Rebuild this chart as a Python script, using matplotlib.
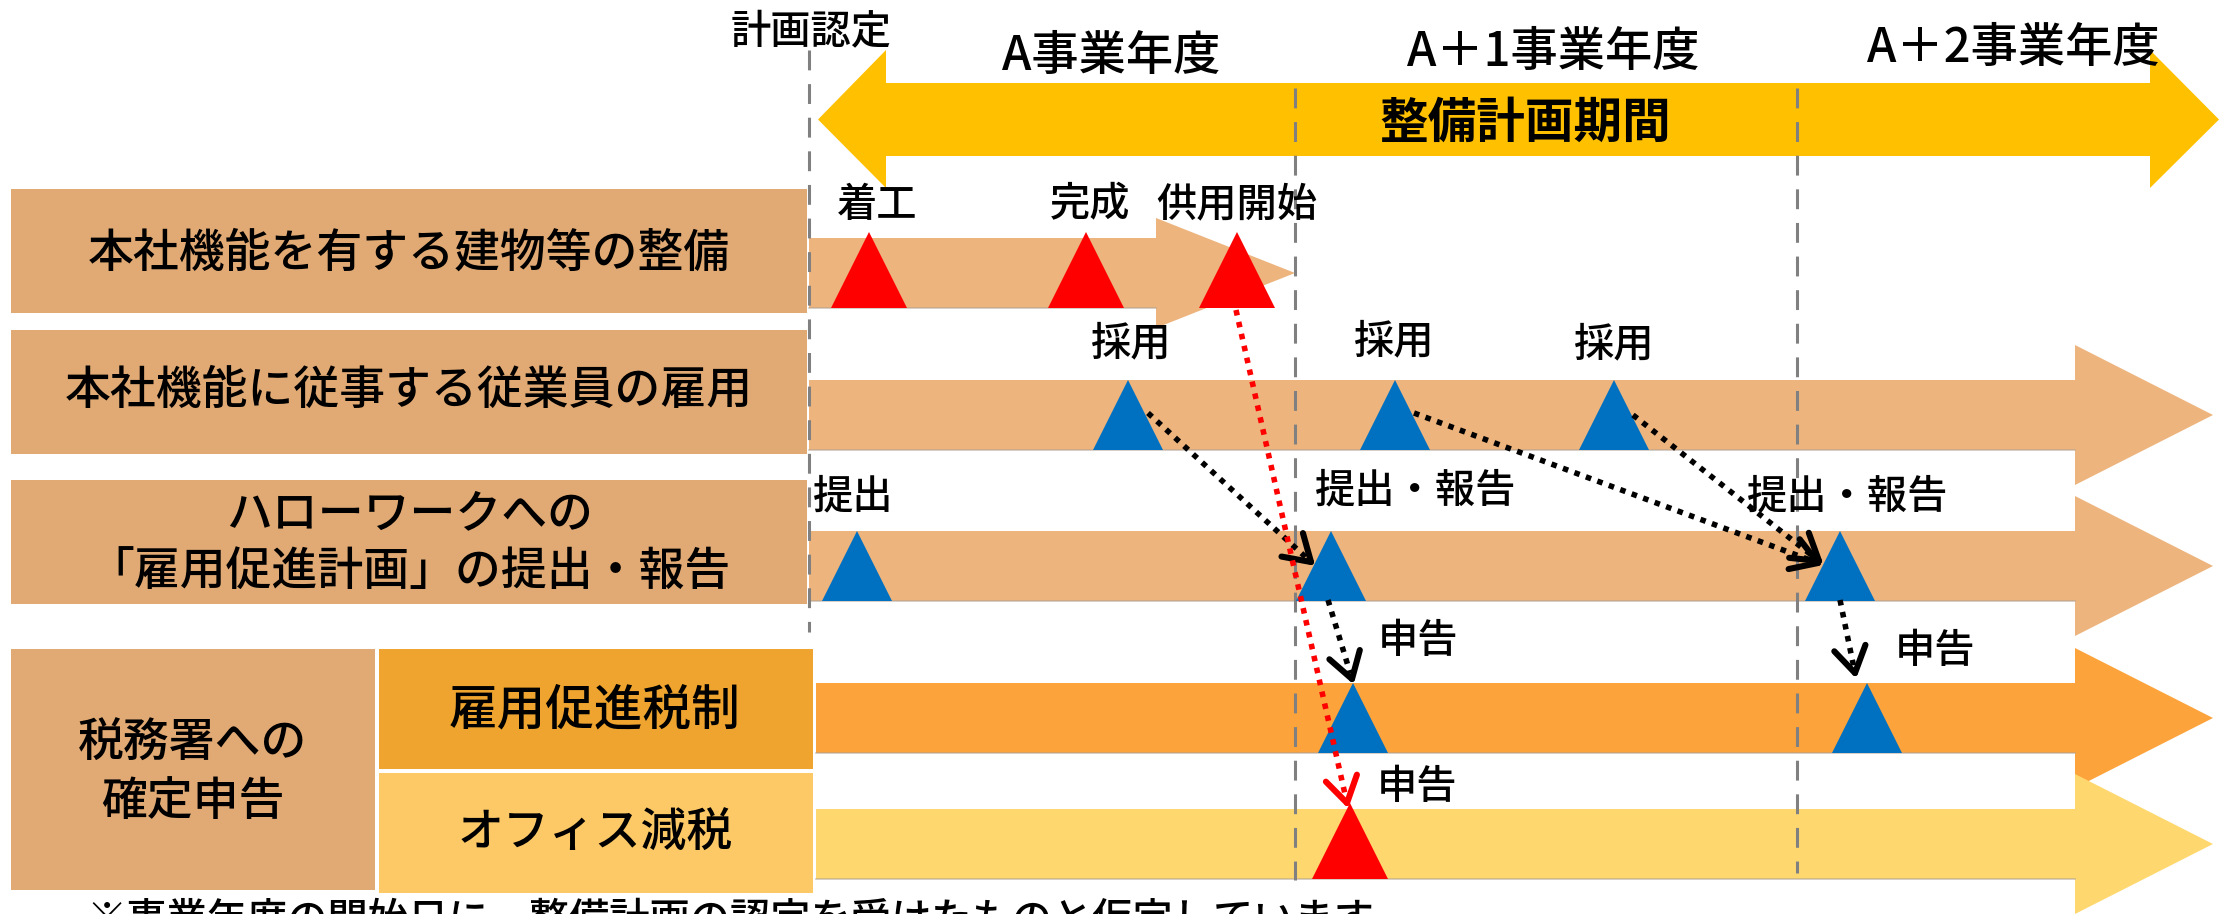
import numpy as np
import matplotlib
matplotlib.use("Agg")
import matplotlib.pyplot as plt
from matplotlib.patches import Polygon, Rectangle

plt.rcParams['font.family'] = ['Noto Sans CJK JP', 'DejaVu Sans']
plt.rcParams['font.weight'] = 'medium'

# --- data (pixel positions) ---
W, H = 2219, 914

header_texts = ["A事業年度", "A＋1事業年度", "A＋2事業年度"]
header_x = [1111, 1553, 2013]
header_y = [57, 52, 48]

approval_text = "計画認定"
approval_pos = (811, 32)
period_text = "整備計画期間"
period_pos = (1525, 123)

# big period arrow (double headed)
period_shaft = (83, 156)
period_head = (50, 188)
period_left = (818, 886)      # tip, back of head
period_right = (2150, 2219)   # back of head, tip

# dashed year boundaries: x, y_top, y_bottom
vline_x = [809, 1295, 1797]
vline_top = [50, 88, 88]
vline_bot = [632, 880, 873]

# timeline rows
row_y = [273, 415, 566, 718, 844]
row_half = [35, 35, 35, 35, 35]
row_start = [809, 809, 809, 816, 816]
row_head_back = [1156, 2075, 2075, 2075, 2075]
row_tip = [1295, 2213, 2213, 2213, 2213]
row_head_half = [55, 70, 70, 70, 70]
row_colors = ["#EDB47D", "#EDB47D", "#EDB47D", "#FCA33C", "#FED86F"]

# left label boxes: x0, x1, y0, y1
box_x0 = [11, 11, 11, 11, 379, 379]
box_x1 = [807, 807, 807, 375, 813, 813]
box_y0 = [189, 330, 480, 649, 649, 773]
box_y1 = [313, 454, 604, 890, 769, 893]
box_colors = ["#E1AA74", "#E1AA74", "#E1AA74", "#E1AA74", "#EEA42E", "#FDC966"]
box_texts = ["本社機能を有する建物等の整備", "本社機能に従事する従業員の雇用",
             "ハローワークへの\n「雇用促進計画」の提出・報告", "税務署への\n確定申告",
             "雇用促進税制", "オフィス減税"]
box_text_x = [409, 409, 410, 193, 595, 595]
box_text_y = [253, 390, 543, 772, 710, 833]
box_text_size = [33, 33, 33, 33, 35, 33]

# events (triangles) on rows
event_row = [0, 0, 0, 1, 1, 1, 2, 2, 2, 3, 3, 4]
event_x = [869, 1086, 1237, 1128, 1395, 1614, 857, 1331, 1840, 1353, 1867, 1350]
event_kind = ["red", "red", "red", "blue", "blue", "blue", "blue", "blue", "blue",
              "blue", "blue", "red"]

# event labels
label_texts = ["着工", "完成", "供用開始", "採用", "採用", "採用",
               "提出", "提出・報告", "提出・報告", "申告", "申告", "申告"]
label_x = [877, 1090, 1237, 1131, 1394, 1614, 853, 1416, 1848, 1418, 1935, 1417]
label_y = [205, 205, 205, 344, 342, 345, 497, 491, 497, 641, 652, 787]

# dotted arrows: start, end, colour
arrow_start = [(1148, 413), (1414, 413), (1633, 415), (1328, 600), (1840, 600), (1236, 310)]
arrow_end = [(1311, 562), (1818, 563), (1819, 561), (1352, 679), (1855, 673), (1347, 803)]
arrow_color = ["black", "black", "black", "black", "black", "#FF0000"]

footnote = "※事業年度の開始日に、整備計画の認定を受けたものと仮定しています。"
footnote_pos = (86, 931)

tri_colors = {"red": "#FF0000", "blue": "#0070C0"}

# --- figure ---
fig = plt.figure(figsize=(W / 100, H / 100), dpi=100)
ax = fig.add_axes([0, 0, 1, 1])
ax.set_xlim(0, W)
ax.set_ylim(H, 0)
ax.axis("off")

# period arrow
lt, lb = period_left
rb, rt = period_right
s0, s1 = period_shaft
h0, h1 = period_head
mid = (s0 + s1) / 2
ax.add_patch(Polygon([(lt, mid), (lb, h0), (lb, s0), (rb, s0), (rb, h0), (rt, mid),
                      (rb, h1), (rb, s1), (lb, s1), (lb, h1)],
                     closed=True, fc="#FFC000", ec="none", zorder=1))
ax.text(*period_pos, period_text, fontsize=35, fontweight="bold",
        ha="center", va="center", zorder=5)

for t, x, y in zip(header_texts, header_x, header_y):
    ax.text(x, y, t, fontsize=34, ha="center", va="center")
ax.text(*approval_pos, approval_text, fontsize=29, ha="center", va="center")

# label boxes
for i in range(len(box_texts)):
    ax.add_patch(Rectangle((box_x0[i], box_y0[i]), box_x1[i] - box_x0[i],
                           box_y1[i] - box_y0[i], fc=box_colors[i], ec="none"))
    ax.text(box_text_x[i], box_text_y[i], box_texts[i], fontsize=box_text_size[i],
            ha="center", va="center", linespacing=1.3)

# row arrows
for i in range(len(row_y)):
    yc, hh, hw = row_y[i], row_half[i], row_head_half[i]
    x0, xb, xt = row_start[i], row_head_back[i], row_tip[i]
    ax.add_patch(Polygon([(x0, yc - hh), (xb, yc - hh), (xb, yc - hw), (xt, yc),
                          (xb, yc + hw), (xb, yc + hh), (x0, yc + hh)],
                         closed=True, fc=row_colors[i], ec="none", zorder=2 + i * 0.01))
    ax.plot([x0, xb], [yc + hh, yc + hh], color="#B0A090", lw=1.2, alpha=0.6, zorder=2.05)

# dashed year lines
for x, y0, y1 in zip(vline_x, vline_top, vline_bot):
    ax.plot([x, x], [y0, y1], color="#808080", lw=2.2, dashes=(6.5, 4.5), zorder=3)

# triangles
for r, x, k in zip(event_row, event_x, event_kind):
    yc = row_y[r]
    if k == "red":
        top, bot, hw = yc - row_half[r] - 6, yc + row_half[r], 38
    else:
        top, bot, hw = yc - row_half[r], yc + row_half[r], 35
    ax.add_patch(Polygon([(x, top), (x - hw, bot), (x + hw, bot)], closed=True,
                         fc=tri_colors[k], ec="none", zorder=4))

for t, x, y in zip(label_texts, label_x, label_y):
    ax.text(x, y, t, fontsize=29, ha="center", va="center", zorder=5)

# dotted arrows with open heads
for (xs, ys), (xe, ye), c in zip(arrow_start, arrow_end, arrow_color):
    d = np.array([xe - xs, ye - ys], dtype=float)
    d /= np.hypot(*d)
    ax.plot([xs, xe - d[0] * 6], [ys, ye - d[1] * 6], color=c, lw=4.0,
            dashes=(1, 1.2), solid_capstyle="butt", dash_capstyle="butt", zorder=6)
    for ang in (np.radians(32), -np.radians(32)):
        rot = np.array([[np.cos(ang), -np.sin(ang)], [np.sin(ang), np.cos(ang)]])
        arm = rot @ (-d) * 30
        ax.plot([xe, xe + arm[0]], [ye, ye + arm[1]], color=c, lw=4.4,
                solid_capstyle="round", zorder=6)

ax.text(*footnote_pos, footnote, fontsize=29, ha="left", va="baseline")

fig.savefig("out.png", dpi=100)
